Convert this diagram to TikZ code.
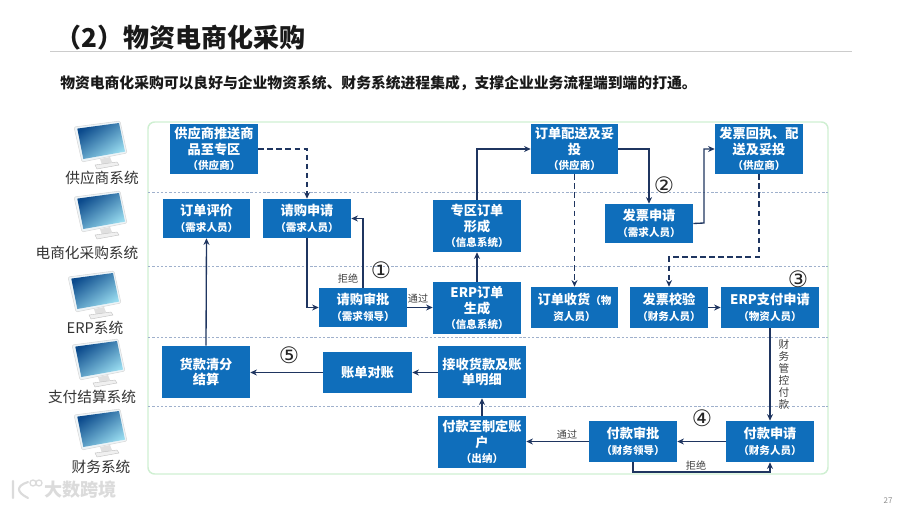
\documentclass[tikz,border=0pt]{standalone}
\usepackage{fontspec}
\setmainfont{Noto Sans CJK SC}
\newfontfamily\symfont{DejaVu Sans}
\usetikzlibrary{arrows.meta,calc}
\definecolor{boxblue}{HTML}{0F6EBB}
\definecolor{linkblue}{HTML}{1F3560}
\definecolor{lanedash}{HTML}{9FB0CC}
\definecolor{frameg}{HTML}{CFEFD2}
\definecolor{scrdark}{HTML}{0B4A8C}
\definecolor{scrmid}{HTML}{2F8CC8}
\definecolor{scrlight}{HTML}{9ADDF0}
\definecolor{bezel}{HTML}{EEF4F7}
\tikzset{
  stepbox/.style={fill=boxblue,text=white,inner sep=0pt,align=center,font=\fontsize{9.9}{11.6}\selectfont\bfseries},
  link/.style={draw=linkblue,line width=1pt,-{Stealth[length=5pt,width=4.5pt]}},
  dlink/.style={link,dash pattern=on 4.2pt off 2.6pt},
  lane/.style={draw=lanedash,line width=.6pt,dash pattern=on 1.8pt off 1.4pt},
  small/.style={text=black!75,inner sep=0pt,font=\fontsize{7.6}{8.8}\selectfont},
  numb/.style={text=black!85,inner sep=0pt,font=\symfont\fontsize{17}{18}\selectfont},
  sys/.style={text=black!80,inner sep=0pt,font=\fontsize{11}{12}\selectfont},
}
\newcommand{\sub}[1]{{\fontsize{7.9}{10}\selectfont #1}}
\newcommand{\bx}[6]{\node[stepbox,minimum width={(#4-#2)*0.75pt},minimum height={(#5-#3)*0.75pt}] (#1) at ({(#2+#4)/2},{(#3+#5)/2}) {#6};}
\newcommand{\mon}[2]{\begin{scope}[shift={(#1,#2)}]
  \fill[black!12] (26,32)--(36,30)--(38,35)--(28,38)--cycle;
  \fill[black!6,draw=black!25,line width=.3pt] (21,38)--(43,35)--(45,38)--(23,42)--cycle;
  \fill[bezel,draw=black!15,line width=.4pt,rounded corners=1pt] (0,0)--(46,-6)--(53,26)--(8,35)--cycle;
  \shade[left color=scrdark,middle color=scrmid,right color=scrlight,shading angle=35] (3.3,1.6)--(45,-4)--(51,24.6)--(9.3,32)--cycle;
\end{scope}}
\begin{document}
\begin{tikzpicture}[x=0.75pt,y=-0.75pt]
\useasboundingbox (0,0) rectangle (900,507);
% title
\node[anchor=west,inner sep=0pt,font=\fontsize{19.5}{22}\selectfont\bfseries,text=black!90] (title) at (55,38) {（2）物资电商化采购};
\coordinate (ruleL) at (50,51); \coordinate (ruleR) at (852,51);
\draw[black!20,line width=.7pt] (ruleL)--(ruleR);
\node[anchor=west,inner sep=0pt,font=\fontsize{11.1}{13}\selectfont\bfseries,text=black!90] (subtitle) at (60,83) {物资电商化采购可以良好与企业物资系统、财务系统进程集成，支撑企业业务流程端到端的打通。};
% frame and lanes
\draw[frameg,line width=1.1pt,rounded corners=5pt] (148,122) rectangle (828,474);
\foreach \yy in {192,266,337,406} {\draw[lane] (148,\yy)--(828,\yy);}
% monitors
\mon{74}{127}\mon{74}{197}\mon{68}{277}\mon{72}{345}\mon{74}{415}
\node[sys] (s1) at (102,178) {供应商系统};
\node[sys] (s2) at (87,253) {电商化采购系统};
\node[sys] (s3) at (95,328) {ERP系统};
\node[sys] (s4) at (92,397) {支付结算系统};
\node[sys] (s5) at (101,467) {财务系统};
% boxes
\bx{push}{170}{124}{258}{174}{供应商推送商\\品至专区\\\sub{（供应商）}}
\bx{evalu}{163}{199}{250}{238}{订单评价\\\sub{（需求人员）}}
\bx{req}{263}{199}{351}{238}{请购申请\\\sub{（需求人员）}}
\bx{zone}{433}{200}{521}{252}{专区订单\\形成\\\sub{（信息系统）}}
\bx{appr}{319}{288}{407}{327}{请购审批\\\sub{（需求领导）}}
\bx{erp}{433}{282}{521}{334}{ERP订单\\生成\\\sub{（信息系统）}}
\bx{deliv}{531}{124}{618}{174}{订单配送及妥\\投\\\sub{（供应商）}}
\bx{recpt}{715}{124}{803}{174}{发票回执、配\\送及妥投\\\sub{（供应商）}}
\bx{invreq}{605}{204}{693}{243}{发票申请\\\sub{（需求人员）}}
\bx{goods}{531}{287}{618}{328}{订单收货\sub{（物}\\\sub{资人员）}}
\bx{check}{630}{287}{708}{328}{发票校验\\\sub{（财务人员）}}
\bx{erppay}{721}{287}{819}{328}{ERP支付申请\\\sub{（物资人员）}}
\bx{settle}{162}{346}{250}{398}{货款清分\\结算}
\bx{bill}{323}{352}{412}{393}{账单对账}
\bx{recv}{438}{346}{526}{398}{接收货款及账\\单明细}
\bx{pay}{438}{416}{526}{468}{付款至制定账\\户\\\sub{（出纳）}}
\bx{payap}{589}{421}{677}{462}{付款审批\\\sub{（财务领导）}}
\bx{payrq}{726}{421}{814}{462}{付款申请\\\sub{（财务人员）}}
% connectors
\draw[dlink] (push.east) -| (req.north);
\draw[link] (req.south) |- (appr.west);
\draw[link] (appr.north) |- (req.east);
\draw[link] (appr.east) -- (erp.west |- appr.east);
\draw[link] (erp.north) -- (zone.south);
\draw[link] (zone.north) |- (deliv.west);
\draw[link] (deliv.east) -| (invreq.north);
\coordinate (turnA) at (704,223);
\draw[link] (invreq.east) -- (turnA) |- (recpt.west);
\draw[dlink] (deliv.south) -- (goods.north);
\coordinate (turnB) at (759,257);
\draw[dlink] (recpt.south) -- (turnB) -| (check.north);
\draw[link] (check.east) -- (erppay.west);
\draw[link] (erppay.south) -- (payrq.north);
\draw[link] (payrq.west) -- (payap.east);
\draw[link] (payap.west) -- (pay.east |- payap.west);
\draw[link] (pay.north) -- (recv.south);
\draw[link] (recv.west |- bill.east) -- (bill.east);
\draw[link] (bill.west) -- (settle.east |- bill.west);
\draw[link] (settle.north) -- (evalu.south);
\coordinate (turnC) at (633,472);
\coordinate (turnS) at (633,462);
\draw[link] (turnS) -- (turnC) -| (payrq.south);
% labels
\node[small] (l1) at (348,279) {拒绝};
\node[small] (l2) at (418,299) {通过};
\node[small] (l3) at (567,435) {通过};
\node[small] (l4) at (696,466) {拒绝};
\node[small,align=center,font=\fontsize{8}{9}\selectfont] (l5) at (784,374) {财\\务\\管\\控\\付\\款};
\node[numb] (n1) at (381,270) {①};
\node[numb] (n2) at (664,185) {②};
\node[numb] (n3) at (798,279) {③};
\node[numb] (n4) at (702,418) {④};
\node[numb] (n5) at (289,355) {⑤};
% page number and watermark
\node[inner sep=0pt,text=black!45,font=\fontsize{6}{7}\selectfont] (pg) at (888,501) {27};
\node[anchor=west,inner sep=0pt,text=black!14,font=\fontsize{13.6}{15}\selectfont\bfseries] (wm) at (44,490) {大数跨境};
\draw[black!14,line width=1.6pt,line cap=round] (13,481)--(13,498) (28,482) .. controls (16,486) and (16,492) .. (28,498);
\draw[black!14,line width=1pt] (33,483) circle (3) (39,483) circle (3);
\end{tikzpicture}
\end{document}
